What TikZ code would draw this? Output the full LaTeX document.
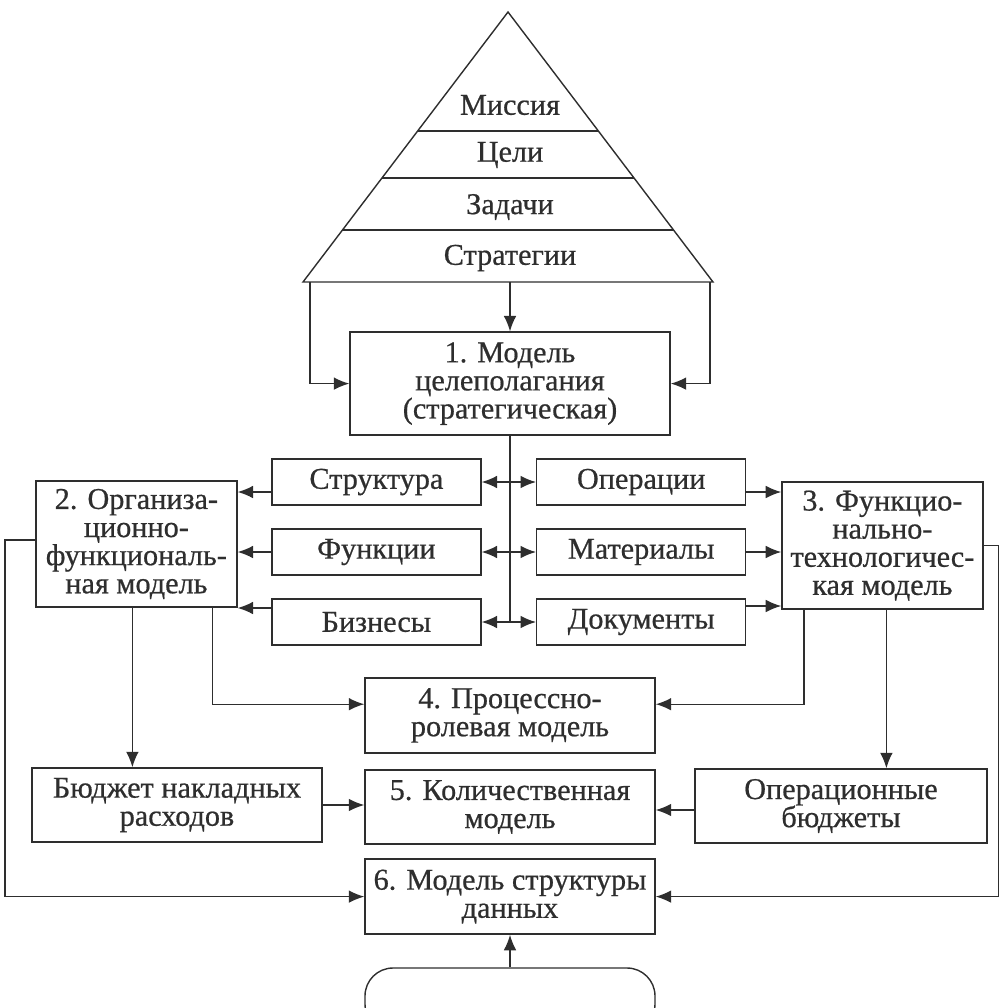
\documentclass[tikz,border=0pt]{standalone}
\usepackage{fontspec}
\setmainfont{Liberation Serif}[FakeBold=0.6]
\usetikzlibrary{arrows.meta}
\definecolor{ink}{HTML}{2E2E2E}
\tikzstyle{modelbox}=[rectangle,draw=ink,line width=1pt,text=ink,align=center,inner sep=2pt,font=\fontsize{21.5}{20}\selectfont]
\tikzstyle{itembox}=[modelbox,minimum width=5.225cm,minimum height=1.15cm]
\tikzstyle{tier}=[text=ink,font=\fontsize{21.5}{20}\selectfont]
\tikzstyle{wire}=[draw=ink,line width=1pt]
\tikzstyle{arrow}=[wire,->,>={Latex[length=11pt,width=9pt]}]
\tikzstyle{twoway}=[arrow,<->]

\begin{document}
\begin{tikzpicture}[node distance=1.75cm]
\useasboundingbox (0,0) rectangle (24.975,-25.2);
\clip (0,0) rectangle (24.975,-25.2);
% pyramid
\draw [wire] (12.7,-0.3) -- (7.575,-7.05) -- (17.825,-7.05) -- cycle;
\draw [wire] (10.44,-3.275) -- (14.96,-3.275);
\draw [wire] (9.55,-4.45) -- (15.85,-4.45);
\draw [wire] (8.56,-5.75) -- (16.84,-5.75);
\node (mission)[tier] at (12.75,-2.625) {Миссия};
\node (goals)[tier] at (12.75,-3.875) {Цели};
\node (tasks)[tier] at (12.75,-5.175) {Задачи};
\node (strategies)[tier] at (12.75,-6.45) {Стратегии};
\coordinate (base) at (12.75,-7.05);
\coordinate (wallL) at (7.75,-7.05);
\coordinate (wallR) at (17.75,-7.05);

% models
\node (model1)[modelbox,minimum width=8cm,minimum height=2.575cm] at (12.75,-9.59) {1. Модель\\целеполагания\\(стратегическая)};
\node (structure)[itembox,below of=model1,xshift=-3.34cm,yshift=-0.71cm]{Структура};
\node (functions)[itembox,below of=structure]{Функции};
\node (business)[itembox,below of=functions]{Бизнесы};
\node (operations)[itembox,below of=model1,xshift=3.28cm,yshift=-0.71cm]{Операции};
\node (materials)[itembox,below of=operations]{Материалы};
\node (documents)[itembox,below of=materials]{Документы};
\node (model2)[modelbox,minimum width=5.025cm,minimum height=3.15cm,left of=functions,xshift=-4.25cm,yshift=0.2cm]{2. Организа-\\ционно-\\функциональ-\\ная модель};
\node (model3)[modelbox,minimum width=5.025cm,minimum height=3.175cm,right of=materials,xshift=4.28cm,yshift=0.16cm]{3. Функцио-\\нально-\\технологичес-\\кая модель};
\node (model4)[modelbox,minimum width=7.25cm,minimum height=1.875cm,below of=business,xshift=3.34cm,yshift=-0.585cm]{4. Процессно-\\ролевая модель};
\node (model5)[modelbox,minimum width=7.25cm,minimum height=1.85cm,below of=model4,yshift=-0.54cm]{5. Количественная\\модель};
\node (model6)[modelbox,minimum width=7.25cm,minimum height=1.875cm,below of=model5,yshift=-0.49cm]{6. Модель структуры\\данных};
\node (overhead)[modelbox,minimum width=7.25cm,minimum height=1.85cm,left of=model5,xshift=-6.575cm,yshift=0.05cm]{Бюджет накладных\\расходов};
\node (opbudget)[modelbox,minimum width=7.3cm,minimum height=1.85cm,right of=model5,xshift=6.525cm,yshift=0.025cm]{Операционные\\бюджеты};
\node (source)[modelbox,rounded corners=0.7cm,minimum width=7.25cm,minimum height=1.6cm] at (12.75,-25.0) {};

% connectors
\draw [arrow] (base) -- (model1);
\draw [arrow] (wallL) |- (model1.west);
\draw [arrow] (wallR) |- (model1.east);
\draw [wire] (model1.south) -- (model1.south |- business.east);
\draw [twoway] (structure) -- (operations);
\draw [twoway] (functions) -- (materials);
\draw [twoway] (business) -- (documents);
\draw [arrow] ([yshift=-0.25cm]structure.west) -- ([yshift=-0.25cm]structure.west -| model2.east);
\draw [arrow] (functions.west) -- (functions.west -| model2.east);
\draw [arrow] ([yshift=0.35cm]business.west) -- ([yshift=0.35cm]business.west -| model2.east);
\draw [arrow] ([yshift=-0.25cm]operations.east) -- ([yshift=-0.25cm]operations.east -| model3.west);
\draw [arrow] (materials.east) -- (materials.east -| model3.west);
\draw [arrow] ([yshift=0.4cm]documents.east) -- ([yshift=0.4cm]documents.east -| model3.west);
\draw [arrow] ([xshift=1.9cm]model2.south) |- ([yshift=0.28cm]model4.west);
\draw [arrow] ([xshift=-0.1cm]model2.south) -- ([xshift=-0.1cm]model2.south |- overhead.north);
\draw [arrow] ([yshift=0.1cm]model2.west) -- ++(-0.75,0) |- (model6.west);
\draw [arrow] (overhead.east) -- (overhead.east -| model5.west);
\draw [arrow] ([xshift=-1.96cm]model3.south) |- ([yshift=0.28cm]model4.east);
\draw [arrow] ([xshift=0.1cm]model3.south) -- ([xshift=0.1cm]model3.south |- opbudget.north);
\draw [arrow] ([yshift=-0.1cm]opbudget.west) -- ([yshift=-0.1cm]opbudget.west -| model5.east);
\draw [arrow] (model3.east) -- ++(0.38,0) |- (model6.east);
\draw [arrow] (source.north -| model6.south) -- (model6.south);
\end{tikzpicture}
\end{document}
